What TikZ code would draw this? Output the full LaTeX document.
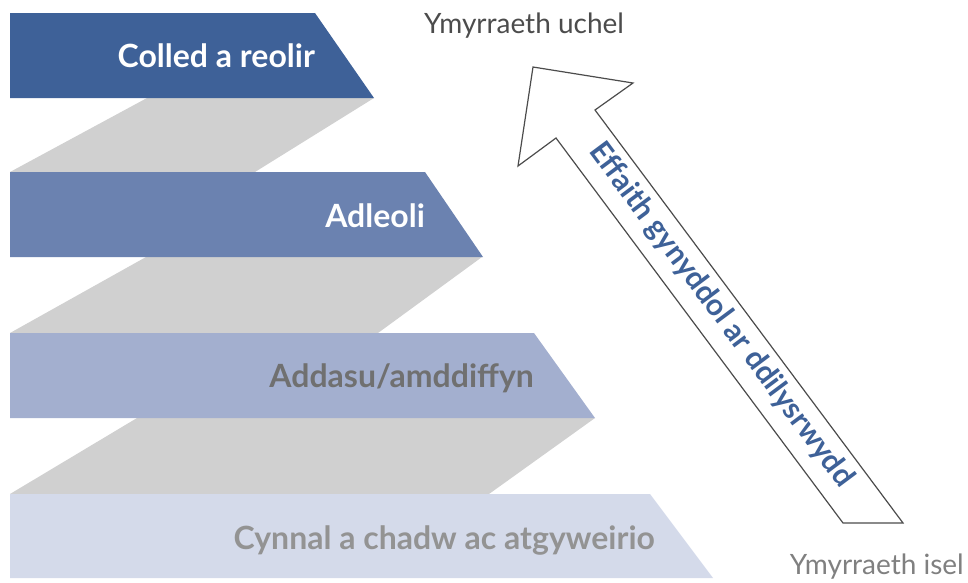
\documentclass[tikz,border=0pt]{standalone}
\usepackage{fontspec}
\setmainfont{Lato}
\definecolor{bandone}{HTML}{3E6198}
\definecolor{bandtwo}{HTML}{6B82B0}
\definecolor{bandthree}{HTML}{A3AFCF}
\definecolor{bandfour}{HTML}{D4DAEA}
\definecolor{shade}{HTML}{D0D0D0}
\definecolor{darktext}{HTML}{707070}
\definecolor{lighttext}{HTML}{939393}

\begin{document}
\begin{tikzpicture}[x=1pt, y=-1pt,
  shadow/.style={fill=shade},
  bandlabel/.style={anchor=east, inner sep=0pt, font=\fontsize{32}{38}\selectfont\bfseries},
  levellabel/.style={inner sep=0pt, font=\fontsize{28}{33}\selectfont},
  arrowline/.style={draw=black!70, line width=1.2pt, line join=miter, fill=white}]
  \useasboundingbox (0,0) rectangle (968,582);
  % grey steps behind the bands
  \fill[shadow] (147,98) -- (374,98) -- (255,172) -- (10,172) -- cycle;
  \fill[shadow] (146,257) -- (482,257) -- (378,333) -- (10,333) -- cycle;
  \fill[shadow] (137,418) -- (595,418) -- (489,494) -- (10,494) -- cycle;
  % bands
  \fill[bandone] (10,13) -- (315,13) -- (374,98) -- (10,98) -- cycle;
  \fill[bandtwo] (10,172) -- (425,172) -- (483,257) -- (10,257) -- cycle;
  \fill[bandthree] (10,333) -- (534,333) -- (595,418) -- (10,418) -- cycle;
  \fill[bandfour] (10,494) -- (650,494) -- (713,578) -- (10,578) -- cycle;
  \node[bandlabel, text=white] (lost) at (315,56) {Colled a reolir};
  \node[bandlabel, text=white] (relocate) at (425,216) {Adleoli};
  \node[bandlabel, text=darktext] (adapt) at (534,378) {Addasu/amddiffyn};
  \node[bandlabel, text=lighttext] (maintain) at (655,540) {Cynnal a chadw ac atgyweirio};
  % arrow
  \coordinate (tip) at (533,67);
  \coordinate (barbR) at (633,83);
  \coordinate (neckR) at (595,110);
  \coordinate (baseR) at (903,523);
  \coordinate (baseL) at (843,523);
  \coordinate (neckL) at (556,138);
  \coordinate (barbL) at (518,166);
  \draw[arrowline] (tip) -- (barbR) -- (neckR) -- (baseR) -- (baseL) -- (neckL) -- (barbL) -- cycle;
  \node[rotate=-53.3, inner sep=0pt, text=bandone, font=\fontsize{30}{34}\selectfont\bfseries] (effect) at (721,315) {Effaith gynyddol ar ddilysrwydd};
  \node[levellabel, anchor=west, text=black!70] (high) at (424,26) {Ymyrraeth uchel};
  \node[levellabel, anchor=east, text=black!50] (low) at (964,567) {Ymyrraeth isel};
\end{tikzpicture}
\end{document}
